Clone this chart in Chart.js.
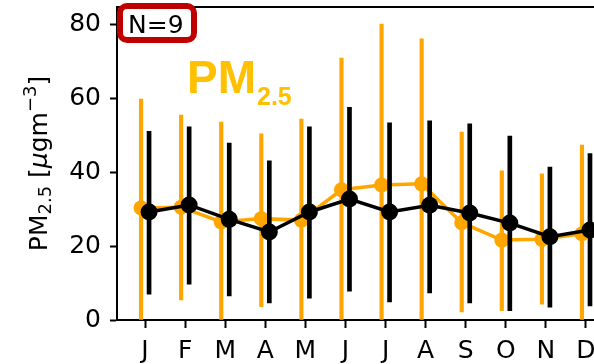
<!DOCTYPE html>
<html>
<head>
<meta charset="utf-8">
<script src="https://cdn.jsdelivr.net/npm/chart.js@4.4.0/dist/chart.umd.min.js"></script>
<style>
html,body{margin:0;padding:0;background:#fff;overflow:hidden}
#wrap{width:594px;height:364px}
</style>
</head>
<body>
<div id="wrap"><canvas id="pm" width="594" height="364"></canvas></div>
<script>
// monthly PM2.5, two sites/series (orange + black), mean and error range
const months = ['J','F','M','A','M','J','J','A','S','O','N','D'];
const orangeMean = [30.3,30.5,26.5,27.4,27.0,35.2,36.5,36.8,26.3,21.6,21.8,23.3];
const orangeLow  = [0,5.4,0,3.6,0,0,0,0,2.2,2.5,4.3,0];
const orangeHigh = [59.7,55.4,53.5,50.3,54.3,70.8,80.0,76.0,50.8,40.3,39.5,47.3];
const blackMean  = [29.2,31.1,27.2,23.8,29.2,32.7,29.2,31.0,28.9,26.2,22.5,24.3];
const blackLow   = [7.0,9.7,6.5,4.6,5.9,7.8,4.9,7.3,4.6,2.5,3.5,3.8];
const blackHigh  = [51.0,52.2,47.8,43.0,52.2,57.5,53.3,53.8,53.0,49.7,41.3,45.0];
const sampleN = 9;

const ORANGE = '#FFA500';
const shift = 0.1; // side-by-side offset of the two series

const ptsOf = (arr, dx) => arr.map((v,i)=>({x:i+dx, y:v}));
const barsOf = (lo, hi, dx) => lo.map((v,i)=>({x:i+dx, y:[v, hi[i]]}));

// overlays: y title with sub/superscripts, PM2.5 label, N box
const extras = {
  id:'extras',
  afterDraw(chart){
    const ctx = chart.ctx, a = chart.chartArea;

    const segs = [
      ['PM','25px "DejaVu Sans"',0],
      ['2.5','18px "DejaVu Sans"',4],
      [' [','25px "DejaVu Sans"',0],
      ['μ','italic 25px "DejaVu Sans"',0],
      ['gm','25px "DejaVu Sans"',0],
      ['−3','18px "DejaVu Sans"',-11],
      [']','25px "DejaVu Sans"',0]
    ];
    ctx.save();
    let total = 0;
    segs.forEach(s=>{ctx.font=s[1]; total += ctx.measureText(s[0]).width;});
    ctx.translate(47, (a.top+a.bottom)/2 + total/2);
    ctx.rotate(-Math.PI/2);
    ctx.fillStyle = '#000'; ctx.textBaseline = 'alphabetic'; ctx.textAlign = 'left';
    let x = 0;
    segs.forEach(s=>{ctx.font=s[1]; ctx.fillText(s[0], x, s[2]); x += ctx.measureText(s[0]).width;});
    ctx.restore();

    ctx.save();
    ctx.fillStyle = '#FFC000';
    ctx.textBaseline = 'alphabetic';
    ctx.font = 'bold 46px "Liberation Sans"';
    ctx.fillText('PM', 187, 93);
    const w = ctx.measureText('PM').width;
    ctx.font = 'bold 25px "Liberation Sans"';
    ctx.fillText('2.5', 187 + w + 1, 105);
    ctx.restore();

    ctx.save();
    ctx.beginPath();
    ctx.roundRect(120, 6, 74, 34, 7);
    ctx.fillStyle = '#fff'; ctx.fill();
    ctx.strokeStyle = '#C00000'; ctx.lineWidth = 6; ctx.stroke();
    ctx.fillStyle = '#000';
    ctx.font = '25px "DejaVu Sans"';
    ctx.textBaseline = 'alphabetic';
    ctx.fillText('N=' + sampleN, 128, 33);
    ctx.restore();
  }
};

const tickFont = {family:'DejaVu Sans', size:25};

new Chart(document.getElementById('pm').getContext('2d'), {
  data:{
    datasets:[
      {type:'bar', data:barsOf(orangeLow, orangeHigh, -shift), backgroundColor:ORANGE, barThickness:3.5, grouped:false, order:4},
      {type:'line', data:ptsOf(orangeMean, -shift), borderColor:ORANGE, backgroundColor:ORANGE, borderWidth:3.5, pointRadius:7.5, pointBorderWidth:0, order:3},
      {type:'bar', data:barsOf(blackLow, blackHigh, shift), backgroundColor:'#000', barThickness:4, grouped:false, order:2},
      {type:'line', data:ptsOf(blackMean, shift), borderColor:'#000', backgroundColor:'#000', borderWidth:3.5, pointRadius:8.5, pointBorderWidth:0, order:1}
    ]
  },
  options:{
    responsive:false,
    animation:false,
    devicePixelRatio:1,
    layout:{autoPadding:false, padding:{top:7, left:0, right:0, bottom:0}},
    plugins:{legend:{display:false}, tooltip:{enabled:false}},
    scales:{
      x:{
        type:'linear', min:-0.7, max:11.2, offset:false,
        ticks:{stepSize:1, includeBounds:false, autoSkip:false, maxRotation:0, color:'#000', font:tickFont, padding:8,
          callback:v=>Number.isInteger(v) ? months[v] : ''},
        grid:{offset:false, drawOnChartArea:false, tickLength:8, tickColor:'#000', tickWidth:2},
        border:{color:'#000', width:2},
        afterFit(s){ s.height = 44; s.paddingLeft = 0; s.paddingRight = 0; }
      },
      xTop:{
        type:'linear', position:'top', min:-0.7, max:11.2, offset:false,
        ticks:{display:false},
        grid:{display:false},
        border:{display:true, color:'#000', width:2},
        afterFit(s){ s.height = 0; s.paddingLeft = 0; s.paddingRight = 0; }
      },
      y:{
        type:'linear', min:0, max:84.6,
        ticks:{stepSize:20, includeBounds:false, color:'#000', font:tickFont, padding:9},
        grid:{drawOnChartArea:false, tickLength:7, tickColor:'#000', tickWidth:2},
        border:{color:'#000', width:2},
        afterFit(s){ s.width = 117; s.paddingTop = 0; s.paddingBottom = 0; }
      }
    }
  },
  plugins:[extras]
});
</script>
</body>
</html>
